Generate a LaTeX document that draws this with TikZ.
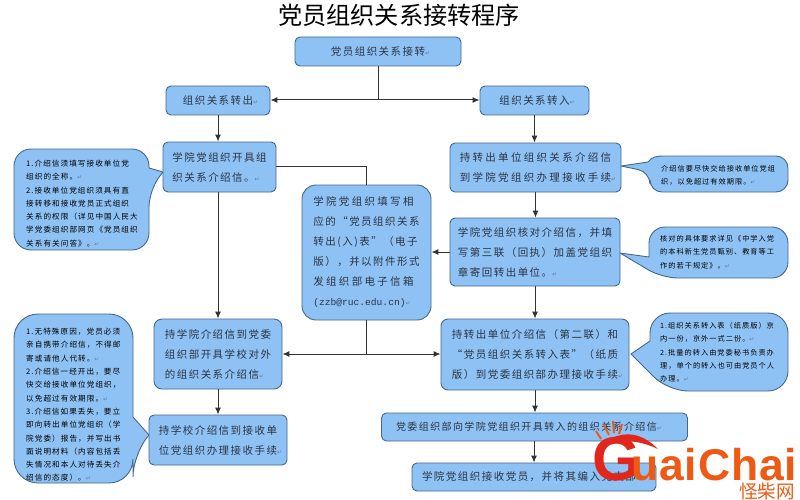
\documentclass[tikz,border=0pt]{standalone}
\usepackage{fontspec}
\usetikzlibrary{arrows.meta}
\newfontfamily\cjkplain{Noto Sans CJK SC}
\newfontfamily\cjkbody[LetterSpace=14]{Noto Sans CJK SC}
\newfontfamily\cjkwide[LetterSpace=22]{Noto Sans CJK SC}
\newfontfamily\monotext{Liberation Mono}
\newfontfamily\retfont{DejaVu Sans}
\newfontfamily\logofont[LetterSpace=2]{Liberation Sans}
\newcommand{\ret}{\rlap{\retfont\fontsize{6}{6}\selectfont\textcolor{retgray}{↵}}}
\definecolor{boxfill}{HTML}{8FC2F4}
\definecolor{boxline}{HTML}{44688C}
\definecolor{retgray}{HTML}{5F7F9F}
\definecolor{txt}{HTML}{2A3440}
\definecolor{logored}{HTML}{E3261B}
\definecolor{logoorange}{HTML}{EE5A14}
\tikzset{
  flowbox/.style={draw=boxline,fill=boxfill,line width=0.9pt,rounded corners=5pt,inner sep=0pt,text=txt,align=left,
     font=\cjkbody\fontsize{10.5}{20}\selectfont},
  widebox/.style={flowbox,font=\cjkwide\fontsize{10.5}{20}\selectfont},
  calloutshape/.style={draw=boxline,fill=boxfill,line width=0.9pt},
  notetext/.style={inner sep=0pt,align=left,text=black,anchor=west,font=\cjkbody\fontsize{7.6}{13.3}\selectfont},
  notetextb/.style={notetext,font=\cjkbody\fontsize{7.2}{13.3}\selectfont},
  link/.style={draw=black!80,line width=1pt},
  arrowlink/.style={link,-{Latex[length=7pt,width=6pt]}},
}
\begin{document}
\begin{tikzpicture}[x=1pt,y=-1pt]
\useasboundingbox (0,0) rectangle (800,500);
\fill[white] (0,0) rectangle (800,500);
\node[inner sep=0pt,font=\cjkplain\fontsize{24.2}{26}\selectfont] (title) at (399,15) {党员组织关系接转程序};

% callouts
\path[calloutshape] (149,168) [rounded corners=17pt] -- (149,149) -- (14,149) -- (14,250) -- (149,250) -- (149,190) [sharp corners] -- (163,172) -- cycle;
\path[calloutshape] (133,417) [rounded corners=24pt] -- (133,314) -- (14,314) -- (14,483) -- (133,483) -- (133,453) [sharp corners] -- (149,435) -- cycle;
\path[calloutshape] (621,166) -- (648,162) .. controls (652,157) and (656,156) .. (664,156) [rounded corners=12pt] -- (788,156) -- (788,192) -- (650,192) -- (650,172) [sharp corners] -- cycle;
\path[calloutshape] (649,257) [rounded corners=16pt] -- (649,227) -- (788,227) -- (788,278) -- (662,278) [sharp corners] -- (620,253) -- cycle;
\path[calloutshape] (650,341) [rounded corners=20pt] -- (650,313) -- (788,313) -- (788,391) -- (668,391) [sharp corners] -- (631,354) -- cycle;

\node[notetext] (noteA) at (26,203.5) {1.介绍信须填写接收单位党\\组织的全称。\ret\\2.接收单位党组织须具有直\\接转移和接收党员正式组织\\关系的权限（详见中国人民大\\学党委组织部网页《党员组织\\关系有关问答》。\ret};
\node[notetext] (noteB) at (26,405) {1.无特殊原因，党员必须\\亲自携带介绍信，不得邮\\寄或请他人代转。\ret\\2.介绍信一经开出，要尽\\快交给接收单位党组织，\\以免超过有效期限。\ret\\3.介绍信如果丢失，要立\\即向转出单位党组织（学\\院党委）报告，并写出书\\面说明材料（内容包括丢\\失情况和本人对待丢失介\\绍信的态度）。\ret};
\node[notetextb] (noteC) at (661,175) {介绍信要尽快交给接收单位党组\\织，以免超过有效期限。\ret};
\node[notetextb] (noteD) at (660,252) {核对的具体要求详见《中学入党\\的本科新生党员甄别、教育等工\\作的若干规定》。\ret};
\node[notetextb] (noteE) at (660,352.5) {1.组织关系转入表（纸质版）京\\内一份，京外一式二份。\ret\\2.批量的转入由党委秘书负责办\\理，单个的转入也可由党员个人\\办理。\ret};

% boxes
\node[flowbox,minimum width=166pt,minimum height=29pt] (top) at (378,51.5) {党员组织关系接转\ret};
\node[flowbox,minimum width=104pt,minimum height=29pt] (outb) at (218,100.5) {组织关系转出\ret};
\node[flowbox,minimum width=109pt,minimum height=29pt] (inb) at (534.5,100.5) {组织关系转入\ret};
\node[flowbox,minimum width=113pt,minimum height=50pt] (issue) at (219.5,167) {学院党组织开具组\\织关系介绍信。\ret};
\node[widebox,minimum width=171pt,minimum height=49pt] (carry) at (535.5,167.5) {持转出单位组织关系介绍信\\到学院党组织办理接收手续\ret};
\node[flowbox,minimum width=170pt,minimum height=68pt] (check) at (535,252) {学院党组织核对介绍信，并填\\写第三联（回执）加盖党组织\\章寄回转出单位。\ret};
\node[flowbox,rounded corners=14pt,minimum width=129pt,minimum height=135pt] (fill) at (366.5,252.5) {{\cjkwide 学院党组织填写相}\\应的“党员组织关系\\转出(入)表”（电子\\版），并以附件形式\\{\cjkwide 发组织部电子信箱}\\{\monotext\fontsize{9.6}{20}\selectfont(zzb@ruc.edu.cn)}\ret};
\node[flowbox,rounded corners=8pt,minimum width=128pt,minimum height=70pt] (letter) at (218,354) {持学院介绍信到党委\\组织部开具学校对外\\的组织关系介绍信\ret};
\node[flowbox,minimum width=138pt,minimum height=50pt] (school) at (218,440) {持学校介绍信到接收单\\位党组织办理接收手续\ret};
\node[flowbox,rounded corners=7pt,minimum width=188pt,minimum height=71pt] (second) at (535,354.5) {持转出单位介绍信（第二联）和\\“党员组织关系转入表”（纸质\\版）到党委组织部办理接收手续\ret};
\node[flowbox,font=\cjkbody\fontsize{10}{20}\selectfont,minimum width=306pt,minimum height=28pt] (office) at (534.5,427) {党委组织部向学院党组织开具转入的组织关系介绍信\ret\hspace*{16pt}};
\node[flowbox,minimum width=244pt,minimum height=28pt] (accept) at (534,477) {学院党组织接收党员，并将其编入党支部\ret\hspace*{10pt}};

% connectors
\coordinate (jt) at (378,100);
\coordinate (jc) at (366,354);
\coordinate (ji) at (366,166);
\draw[link] (top.south) -- (jt);
\draw[arrowlink] (jt) -- (outb.east |- jt);
\draw[arrowlink] (jt) -- (inb.west |- jt);
\draw[arrowlink] (outb.south) -- (issue.north -| outb.south);
\draw[arrowlink] (inb.south) -- (carry.north -| inb.south);
\draw[arrowlink] (carry.south) -- (check.north -| carry.south);
\draw[arrowlink] (check.south) -- (second.north);
\draw[arrowlink] (check.west) -- (fill.east |- check.west);
\draw[link] (issue.east |- ji) -- (ji) -- (fill.north -| ji);
\draw[link] (fill.south -| jc) -- (jc);
\draw[arrowlink] (jc) -- (letter.east |- jc);
\draw[arrowlink] (jc) -- (second.west |- jc);
\draw[arrowlink] (issue.south -| letter.north) -- (letter.north);
\draw[arrowlink] (letter.south) -- (school.north);
\draw[arrowlink] (second.south) -- (office.north -| second.south);
\draw[arrowlink] (office.south -| accept.north) -- (accept.north);

% watermark
\foreach \a/\b/\c/\d in {596/431/601/439, 604/425/609/435, 613/421/614/433, 622/424/619/434}
  \draw[logoorange,line width=2pt] (\a,\b) -- (\c,\d);
\node[inner sep=0pt,anchor=west,text=logored,font=\logofont\bfseries\fontsize{62}{62}\selectfont] (logoG) at (592,459) {G};
\fill[logored] (612,438) .. controls (630,430) and (645,436) .. (658,449) .. controls (645,443) and (628,438) .. (612,444) -- cycle;
\node[inner sep=0pt,anchor=west,text=logoorange,font=\logofont\bfseries\fontsize{44.5}{44}\selectfont] (logoT) at (631,465) {uaiChai};
\node[inner sep=0pt,anchor=east,text=logoorange,font=\cjkplain\fontsize{18.5}{20}\selectfont] (logoC) at (795,491) {怪柴网};
\end{tikzpicture}
\end{document}
